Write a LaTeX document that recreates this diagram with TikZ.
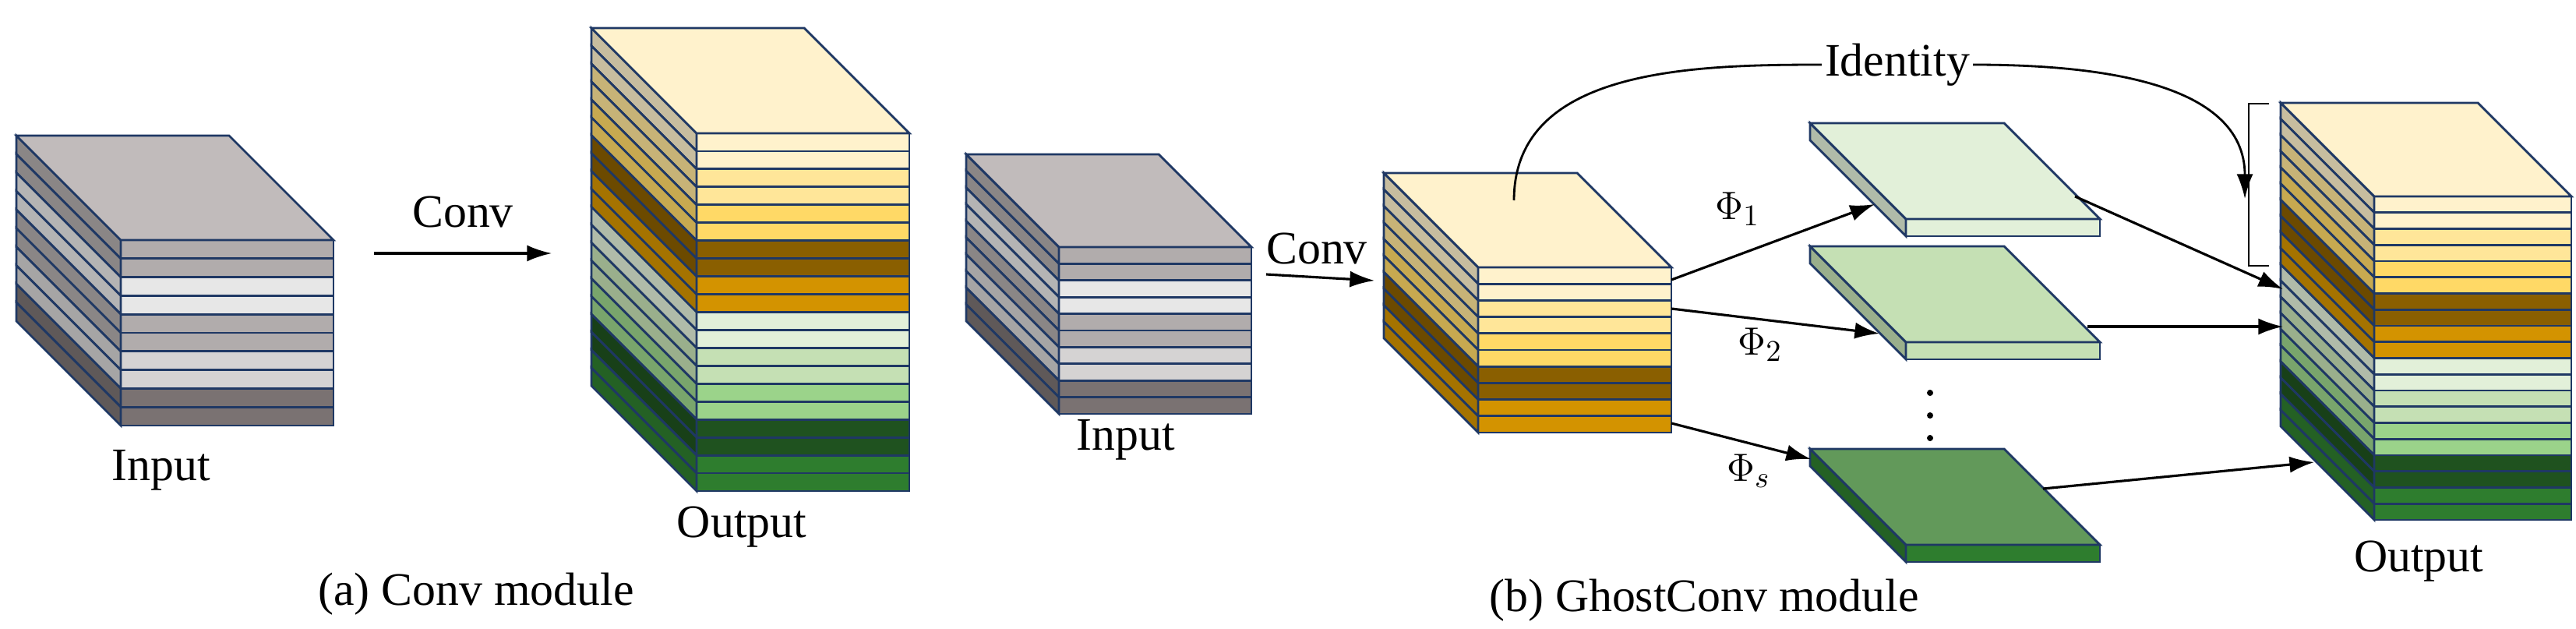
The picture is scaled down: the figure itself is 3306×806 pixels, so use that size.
\documentclass[tikz,border=0pt]{standalone}
\usepackage{fontspec}
\setmainfont{Liberation Serif}
\usetikzlibrary{arrows.meta}

\definecolor{edge}{HTML}{1F3864}
\definecolor{gtop}{HTML}{C1BBBB}
\definecolor{gA}{HTML}{B1ACAC}
\definecolor{gL}{HTML}{E7E7E7}
\definecolor{gM}{HTML}{D5D3D3}
\definecolor{gD}{HTML}{7A7272}
\definecolor{yC}{HTML}{FFF2CC}
\definecolor{yL}{HTML}{FFE699}
\definecolor{yY}{HTML}{FFD966}
\definecolor{yB}{HTML}{8A5F00}
\definecolor{yO}{HTML}{D39300}
\definecolor{gnA}{HTML}{E2F0D9}
\definecolor{gnB}{HTML}{C5E0B4}
\definecolor{gnC}{HTML}{9BD38A}
\definecolor{gnD}{HTML}{1F521F}
\definecolor{gnE}{HTML}{2E7D2E}
\definecolor{gnS}{HTML}{62995A}

% #1,#2 front top-left, #3 width, #4 depth, #5 layer height, #6 top colour, #7 layers
\newcommand{\layerstack}[7]{%
  \foreach \c [count=\i] in {#7}{
    \filldraw[layer,fill=\c] ({#1},{#2+(\i-1)*#5}) rectangle ({#1+#3},{#2+\i*#5});
    \filldraw[layer,fill=\c!78!black] ({#1},{#2+(\i-1)*#5}) -- ({#1-#4},{#2+(\i-1)*#5-#4})
      -- ({#1-#4},{#2+\i*#5-#4}) -- ({#1},{#2+\i*#5}) -- cycle;
  }
  \filldraw[layer,fill=#6] (#1,#2) -- ({#1-#4},{#2-#4}) -- ({#1+#3-#4},{#2-#4}) -- ({#1+#3},#2) -- cycle;
}

\begin{document}
\begin{tikzpicture}[x=0.01cm,y=-0.01cm,
    layer/.style={draw=edge,line width=0.8pt},
    lbl/.style={font=\fontsize{17}{20}\selectfont,inner sep=1pt},
    phi/.style={font=\fontsize{15}{18}\selectfont,inner sep=1pt},
    flow/.style={-{Latex[length=9pt,width=6pt]},line width=0.9pt}]
  \useasboundingbox (0,0) rectangle (3306,806);

  % (a) Conv module
  \layerstack{155}{308}{273}{134}{23.8}{gtop}{gA,gA,gL,gL,gA,gA,gM,gM,gD,gD}
  \layerstack{894}{171}{273}{135}{22.95}{yC}{yC,yC,yL,yL,yY,yY,yB,yB,yO,yO,gnA,gnA,gnB,gnB,gnC,gnC,gnD,gnD,gnE,gnE}
  \node[lbl] (in-a) at (207,603) {Input};
  \node[lbl] (out-a) at (952,676) {Output};
  \node[lbl] (cap-a) at (611,762) {(a) Conv module};
  \coordinate (conv-a-s) at (480,325);
  \coordinate (conv-a-e) at (708,325);
  \draw[flow] (conv-a-s) -- node[lbl,above=8pt] {Conv} (conv-a-e);

  % (b) GhostConv module
  \layerstack{1359}{317}{247}{119}{21.4}{gtop}{gA,gA,gL,gL,gA,gA,gM,gM,gD,gD}
  \layerstack{1897}{343}{248}{121}{21.2}{yC}{yC,yC,yL,yL,yY,yY,yB,yB,yO,yO}
  \layerstack{2446}{281}{249}{123}{22}{gnA}{gnA}
  \layerstack{2446}{439}{249}{123}{22}{gnB}{gnB}
  \layerstack{2446}{699}{249}{123}{22}{gnS}{gnE}
  \layerstack{3047}{252}{253}{120}{20.75}{yC}{yC,yC,yL,yL,yY,yY,yB,yB,yO,yO,gnA,gnA,gnB,gnB,gnC,gnC,gnD,gnD,gnE,gnE}
  \node[lbl] (in-b) at (1445,564) {Input};
  \node[lbl] (out-b) at (3104,720) {Output};
  \node[lbl] (cap-b) at (2187,770) {(b) GhostConv module};

  \coordinate (conv-b-s) at (1625,352);
  \coordinate (conv-b-e) at (1764,360);
  \draw[flow] (conv-b-s) -- (conv-b-e);
  \node[lbl] (conv-b) at (1690,319) {Conv};

  \coordinate (gh-1) at (2145,359);
  \coordinate (gh-2) at (2145,396);
  \coordinate (gh-3) at (2145,543);
  \coordinate (ph-1) at (2406,262);
  \coordinate (ph-2) at (2412,428);
  \coordinate (ph-3) at (2324,589);
  \draw[flow] (gh-1) -- (ph-1);
  \draw[flow] (gh-2) -- (ph-2);
  \draw[flow] (gh-3) -- (ph-3);
  \node[phi] (phi-1) at (2230,268) {$\Phi_1$};
  \node[phi] (phi-2) at (2259,442) {$\Phi_2$};
  \node[phi] (phi-s) at (2244,604) {$\Phi_s$};

  \coordinate (pl-1) at (2663,252);
  \coordinate (pl-2) at (2679,419);
  \coordinate (pl-3) at (2622,627);
  \coordinate (ob-1) at (2930,371);
  \coordinate (ob-2) at (2930,419);
  \coordinate (ob-3) at (2970,593);
  \draw[flow] (pl-1) -- (ob-1);
  \draw[flow] (pl-2) -- (ob-2);
  \draw[flow] (pl-3) -- (ob-3);

  \foreach \y in {504,533,562}
    \fill (2477,\y) circle (4);

  % identity branch
  \node[lbl] (ident) at (2435,83) {Identity};
  \coordinate (id-s) at (1943,257);
  \coordinate (id-e) at (2881,255);
  \draw[line width=0.8pt] (id-s) to[out=90,in=180] (ident.west);
  \draw[flow,line width=0.8pt] (ident.east) to[out=0,in=90] (id-e);
  \draw[line width=0.8pt] (2912,133) -- (2886,133) -- (2886,341) -- (2912,341);
\end{tikzpicture}
\end{document}
